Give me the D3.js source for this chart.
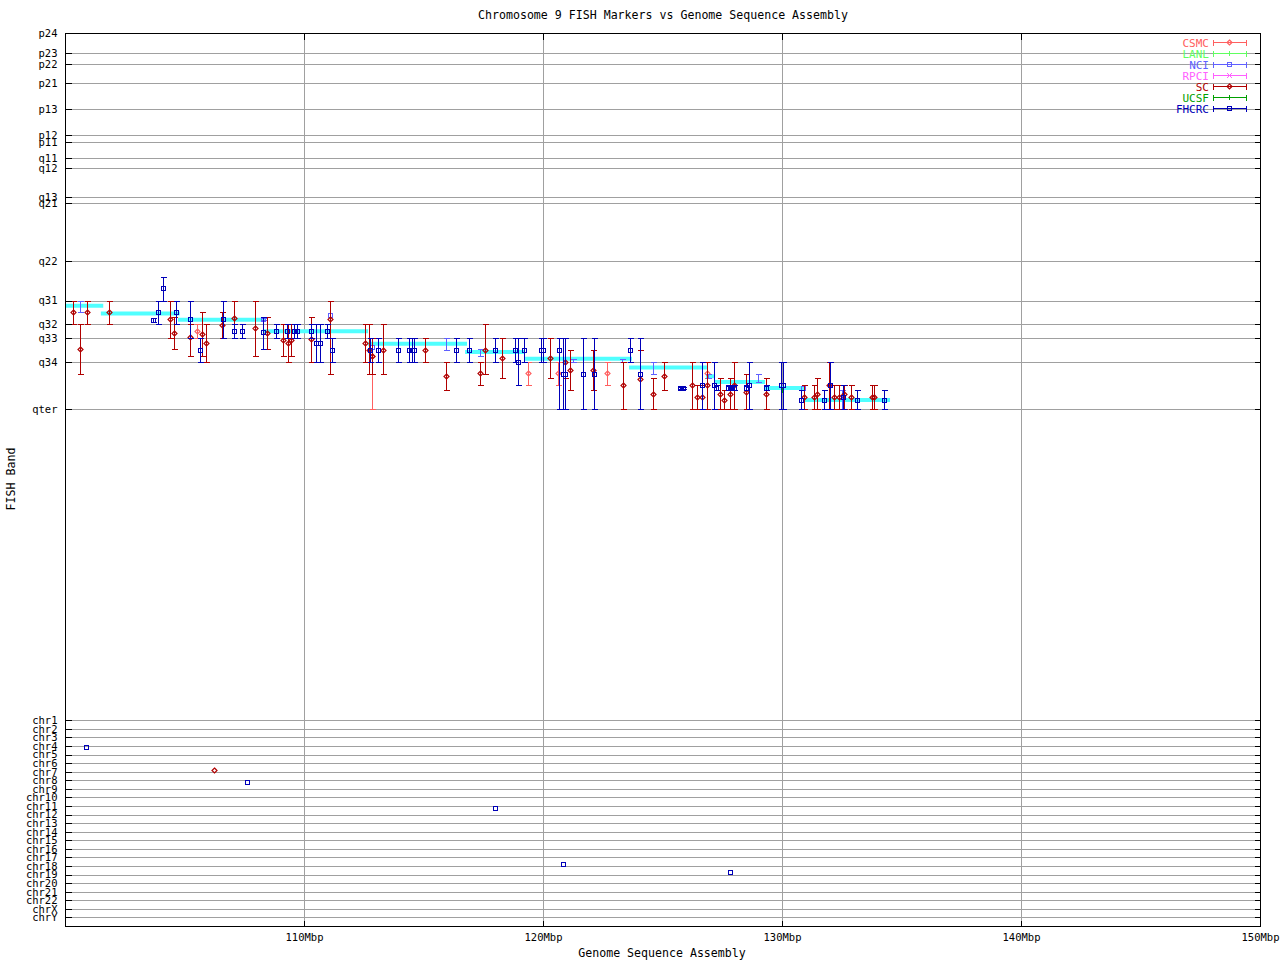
<!DOCTYPE html>
<html><head><meta charset="utf-8">
<script src="https://cdn.jsdelivr.net/npm/d3@7"></script>
<style>body{margin:0;background:#fff}</style>
</head><body><svg id="c" width="1280" height="960"></svg>
<script>
// ---------------- data ----------------
const titleText = "Chromosome 9 FISH Markers vs Genome Sequence Assembly";
const xTickValues = [110, 120, 130, 140, 150];
const xTickSuffix = "Mbp";
const bandLabels = ["p24","p23","p22","p21","p13","p12","p11","q11","q12","q13","q21","q22","q31","q32","q33","q34","qter"];
const bandValues = [0, 2.27, 3.51, 5.63, 8.54, 11.46, 12.24, 14.03, 15.15, 18.40, 19.07, 25.57, 29.96, 32.62, 34.19, 36.88, 42.14];
const chrLabels = ["chr1","chr2","chr3","chr4","chr5","chr6","chr7","chr8","chr9","chr10","chr11","chr12","chr13","chr14","chr15","chr16","chr17","chr18","chr19","chr20","chr21","chr22","chrX","chrY"];
const chrIndex = chrLabels.map((d, i) => i + 1);
const chrRegion = [76.97, 99.03]; // band-unit span of chr1 .. chrY

const labs = ["CSMC","LANL","NCI","RPCI","SC","UCSF","FHCRC"];
const labColors = ["#ff6060","#60ff60","#6060ff","#ff60ff","#b00000","#00a000","#0000b8"];
const labMarkers = ["diamond","tick","square","cross","diamond","tick","square"];

// band-to-sequence segments [startMbp, endMbp, band]
const bandSegments = [
  [100.0, 101.60, 30.53],
  [101.50, 104.80, 31.41],
  [104.73, 108.37, 32.10],
  [108.28, 112.68, 33.40],
  [112.68, 116.82, 34.79],
  [116.74, 119.25, 35.72],
  [119.25, 123.72, 36.47],
  [123.60, 126.86, 37.46],
  [126.82, 127.20, 38.44],
  [127.20, 129.29, 39.08],
  [129.25, 130.96, 39.75],
  [130.96, 134.52, 41.10]
];

// markers [Mbp, band, low, high]  (band null = range only)
const csmc = [
  [105.54, 33.40, 32.62, 34.19],
  [112.83, 36.17, 34.19, 42.14],
  [119.38, 38.11, 36.88, 39.45],
  [120.64, 38.11, 36.88, 39.45],
  [122.66, 38.11, 36.88, 39.45],
  [126.87, 38.11, 36.88, 38.67]
];
const lanl = [];
const nci = [
  [100.63, null, 29.96, 31.21],
  [108.30, 32.06, 31.95, 32.17],
  [111.10, 31.54, 31.54, 31.54],
  [112.86, 35.13, 35.13, 35.13],
  [115.95, null, 34.19, 35.46],
  [117.38, null, 35.42, 36.20],
  [121.26, null, 36.47, 36.88],
  [123.31, null, 36.47, 36.88],
  [124.62, null, 36.88, 38.22],
  [126.91, null, 38.22, 38.67],
  [129.00, null, 38.22, 39.11],
  [130.88, 39.75, 39.75, 39.75],
  [132.50, null, 39.97, 42.14]
];
const rpci = [];
const sc = [
  [100.32,31.28,29.96,32.62],[100.63,35.42,32.62,38.22],[100.93,31.28,29.96,32.62],
  [101.85,31.28,29.96,32.62],[104.39,32.06,29.96,34.19],[104.57,33.63,31.77,35.42],
  [105.23,34.01,32.62,36.20],[105.74,33.74,31.28,36.20],[105.91,34.71,32.62,36.88],
  [106.58,32.73,31.28,34.19],[107.08,31.95,29.96,32.62],[107.96,33.07,29.96,36.20],
  [108.46,33.56,31.84,35.42],[109.13,34.41,32.62,36.20],[109.34,34.75,32.62,36.88],
  [109.47,34.41,32.62,36.20],[110.31,34.30,31.84,36.88],[111.10,32.06,29.96,38.22],
  [112.57,34.75,32.62,36.88],[112.73,35.53,32.62,38.22],[112.86,36.20,34.19,38.22],
  [113.32,35.46,32.62,38.22],[115.08,35.53,34.19,36.88],[115.95,38.44,36.88,40.01],
  [117.38,38.11,36.88,39.45],[117.59,35.46,32.62,38.22],[118.30,36.43,34.19,38.67],
  [120.30,36.43,34.19,38.67],[120.94,36.88,34.19,38.67],[121.15,37.74,35.46,40.01],
  [122.10,37.74,35.46,40.01],[123.33,39.45,36.88,42.14],[124.04,38.78,35.46,42.14],
  [124.62,40.46,38.67,42.14],[125.08,38.44,36.88,40.01],[126.23,39.45,36.88,42.14],
  [126.46,40.79,39.45,42.14],[126.67,40.79,39.45,42.14],[126.87,39.45,36.88,42.14],
  [127.42,40.46,38.67,42.14],[127.59,41.13,40.01,42.14],[127.84,40.46,38.67,42.14],
  [128.00,39.45,36.88,42.14],[128.51,40.24,38.22,42.14],[129.34,40.46,38.67,42.14],
  [130.92,40.79,39.45,42.14],[131.34,40.79,39.45,42.14],[131.46,40.46,38.67,42.14],
  [131.98,39.45,36.88,42.14],[132.19,40.79,39.45,42.14],[132.40,40.79,39.45,42.14],
  [132.61,40.46,39.45,42.14],[132.90,40.79,39.45,42.14],[133.77,40.79,39.45,42.14],
  [133.85,40.79,39.45,42.14]
];
const ucsf = [
  [130.01, 39.97, 39.97, 39.97]
];
const fhcrc = [
  [103.69,32.14,31.88,32.40],[103.90,31.28,29.96,32.62],[104.11,28.59,27.36,29.96],
  [104.66,31.28,29.96,32.62],[105.23,32.06,29.96,34.19],[105.66,35.53,34.19,36.88],
  [106.62,32.06,29.96,34.19],[107.08,33.40,32.62,34.19],[107.42,33.40,32.62,34.19],
  [108.30,33.45,31.84,35.42],[108.84,33.40,32.62,34.19],[109.30,33.40,32.62,34.19],
  [109.60,33.40,32.62,34.19],[109.71,33.40,32.62,34.19],[110.31,33.40,32.62,34.19],
  [110.50,34.75,32.62,36.88],[110.68,34.75,32.62,36.88],[110.98,33.40,32.62,34.19],
  [111.18,35.53,34.19,36.88],[112.76,35.53,34.19,36.88],[113.11,35.53,34.19,36.88],
  [113.95,35.53,34.19,36.88],[114.41,35.53,34.19,36.88],[114.52,35.53,34.19,36.88],
  [114.62,35.53,34.19,36.88],[116.37,35.53,34.19,36.88],[116.92,35.53,34.19,36.88],
  [118.00,35.53,34.19,36.88],[118.83,35.53,34.19,36.88],[118.97,36.88,34.19,39.45],
  [119.22,35.53,34.19,36.88],[119.90,35.53,34.19,36.88],[120.00,35.53,34.19,36.88],
  [120.69,35.53,34.19,42.14],[120.82,38.22,34.19,42.14],[120.94,38.22,34.19,42.14],
  [121.69,38.22,34.19,42.14],[122.15,38.22,34.19,42.14],[123.65,35.53,34.19,36.88],
  [124.05,38.22,34.19,42.14],[125.73,39.75,39.60,39.90],[125.84,39.75,39.60,39.90],
  [126.67,39.45,36.88,42.14],[127.14,39.45,36.88,42.14],[127.25,39.75,39.45,40.01],
  [127.74,39.75,39.45,40.01],[127.87,39.75,39.45,40.01],[127.99,39.75,39.45,40.01],
  [128.51,39.75,39.45,40.01],[128.63,39.45,36.88,42.14],[129.34,39.75,39.45,40.01],
  [129.96,39.45,36.88,42.14],[130.06,39.45,36.88,42.14],[130.81,41.13,40.01,42.14],
  [131.77,41.13,40.01,42.14],[132.01,39.45,36.88,42.14],[132.56,40.79,39.45,42.14],
  [133.15,41.13,40.01,42.14],[134.28,41.13,40.01,42.14]
];
const labSeries = [csmc, lanl, nci, rpci, sc, ucsf, fhcrc];

// markers mapped to other chromosomes [Mbp, chromosome index]
const scOther = [[106.25, 6.84]];
const fhcrcOther = [[100.89, 4.15], [107.62, 8.24], [117.99, 11.24], [120.84, 17.78], [127.82, 18.72]];

// ---------------- drawing ----------------
const W = 1280, H = 960;
const M = {left: 65, right: 20, top: 33, bottom: 34};
const FONT = "'DejaVu Sans Mono', 'Liberation Mono', monospace";
const GRID = "#a0a0a0";
const svg = d3.select("#c");
svg.append("rect").attr("width", W).attr("height", H).attr("fill", "#fff");

const x = d3.scaleLinear().domain([100, 150]).range([M.left, W - M.right]);
const y = d3.scaleLinear().domain([0, 100]).range([M.top, H - M.bottom]);
const yChr = d3.scaleLinear().domain([1, 24]).range([y(chrRegion[0]), y(chrRegion[1])]);
const px = v => Math.round(v) + 0.5;

const x0 = x.range()[0], x1 = x.range()[1], y0 = y.range()[0], y1 = y.range()[1];

// grid
const grid = svg.append("g").attr("stroke", GRID).attr("stroke-width", 1).attr("shape-rendering", "crispEdges");
bandValues.forEach(v => grid.append("line").attr("x1", x0).attr("x2", x1).attr("y1", px(y(v))).attr("y2", px(y(v))));
chrIndex.forEach(v => grid.append("line").attr("x1", x0).attr("x2", x1).attr("y1", px(yChr(v))).attr("y2", px(yChr(v))));
xTickValues.forEach(v => grid.append("line").attr("y1", y0).attr("y2", y1).attr("x1", px(x(v))).attr("x2", px(x(v))));

// band segments
const seg = svg.append("g").attr("stroke", "#50ffff").attr("stroke-width", 4);
bandSegments.forEach(s => seg.append("line")
  .attr("x1", x(s[0])).attr("x2", x(s[1])).attr("y1", y(s[2])).attr("y2", y(s[2])));

function drawMarker(g, kind, cx, cy, color) {
  if (kind === "square") {
    g.append("rect").attr("x", cx - 2).attr("y", cy - 2).attr("width", 4).attr("height", 4)
      .attr("fill", "none").attr("stroke", color).attr("shape-rendering", "crispEdges");
  } else if (kind === "diamond") {
    g.append("path").attr("d", `M${cx},${cy-2.5}L${cx+2.5},${cy}L${cx},${cy+2.5}L${cx-2.5},${cy}Z`)
      .attr("fill", "none").attr("stroke", color).attr("stroke-width", 1.2);
  } else if (kind === "cross") {
    g.append("path").attr("d", `M${cx-2.5},${cy-2.5}L${cx+2.5},${cy+2.5}M${cx-2.5},${cy+2.5}L${cx+2.5},${cy-2.5}`)
      .attr("stroke", color);
  } else {
    g.append("line").attr("x1", cx).attr("x2", cx).attr("y1", cy - 2.5).attr("y2", cy + 2.5).attr("stroke", color);
  }
}

labSeries.forEach((series, li) => {
  const color = labColors[li], kind = labMarkers[li];
  const g = svg.append("g").attr("stroke-width", 1);
  series.forEach(d => {
    const cx = px(x(d[0]));
    const ylo = px(y(d[2])), yhi = px(y(d[3]));
    const eb = g.append("g").attr("stroke", color).attr("shape-rendering", "crispEdges");
    if (yhi - ylo >= 1) {
      eb.append("line").attr("x1", cx).attr("x2", cx).attr("y1", ylo).attr("y2", yhi);
      eb.append("line").attr("x1", cx - 3).attr("x2", cx + 3).attr("y1", ylo).attr("y2", ylo);
      eb.append("line").attr("x1", cx - 3).attr("x2", cx + 3).attr("y1", yhi).attr("y2", yhi);
    }
    if (d[1] !== null) drawMarker(g, kind, cx, px(y(d[1])), color);
  });
});
[[scOther, 4], [fhcrcOther, 6]].forEach(([arr, li]) => {
  const g = svg.append("g").attr("stroke-width", 1);
  arr.forEach(d => drawMarker(g, labMarkers[li], px(x(d[0])), px(yChr(d[1])), labColors[li]));
});

// border
svg.append("rect").attr("x", x0 + 0.5).attr("y", y0 + 0.5).attr("width", x1 - x0).attr("height", y1 - y0)
  .attr("fill", "none").attr("stroke", "#000").attr("shape-rendering", "crispEdges");

// axes
function styleAxis(g, size) {
  g.attr("font-family", FONT).attr("font-size", size);
  g.select(".domain").remove();
  g.selectAll(".tick line").attr("stroke", "#000").attr("shape-rendering", "crispEdges");
  g.selectAll(".tick text").attr("fill", "#000");
}
const bandAxis = d3.axisLeft(y).tickValues(bandValues).tickFormat((d, i) => bandLabels[i])
  .tickSizeInner(-6).tickSizeOuter(0).tickPadding(8);
svg.append("g").attr("transform", `translate(${x0 + 0.5},0)`).call(bandAxis).call(g => styleAxis(g, 10.5));
const chrAxis = d3.axisLeft(yChr).tickValues(chrIndex).tickFormat((d, i) => chrLabels[i])
  .tickSizeInner(-6).tickSizeOuter(0).tickPadding(8);
svg.append("g").attr("transform", `translate(${x0 + 0.5},0)`).call(chrAxis).call(g => styleAxis(g, 10.5));
// mirrored ticks on right
const bandAxisR = d3.axisRight(y).tickValues(bandValues).tickFormat("").tickSizeInner(-6).tickSizeOuter(0);
svg.append("g").attr("transform", `translate(${x1 + 0.5},0)`).call(bandAxisR).call(g => styleAxis(g, 10.5));
const chrAxisR = d3.axisRight(yChr).tickValues(chrIndex).tickFormat("").tickSizeInner(-6).tickSizeOuter(0);
svg.append("g").attr("transform", `translate(${x1 + 0.5},0)`).call(chrAxisR).call(g => styleAxis(g, 10.5));

const xAxis = d3.axisBottom(x).tickValues(xTickValues).tickFormat(d => d + xTickSuffix)
  .tickSizeInner(-6).tickSizeOuter(0).tickPadding(7);
svg.append("g").attr("transform", `translate(0,${y1 + 0.5})`).call(xAxis).call(g => styleAxis(g, 10.5));
const xAxisTop = d3.axisTop(x).tickValues(xTickValues).tickFormat("").tickSizeInner(-6).tickSizeOuter(0);
svg.append("g").attr("transform", `translate(0,${y0 + 0.5})`).call(xAxisTop).call(g => styleAxis(g, 10.5));

// titles
svg.append("text").attr("x", 663).attr("y", 19).attr("text-anchor", "middle")
  .attr("font-family", FONT).attr("font-size", 11.6).text(titleText);
svg.append("text").attr("x", 662).attr("y", 957).attr("text-anchor", "middle")
  .attr("font-family", FONT).attr("font-size", 11.6).text("Genome Sequence Assembly");
svg.append("text").attr("transform", "translate(15,479) rotate(-90)").attr("text-anchor", "middle")
  .attr("font-family", FONT).attr("font-size", 11.6).text("FISH Band");

// legend
const leg = svg.append("g").attr("font-family", FONT).attr("font-size", 11);
labs.forEach((name, i) => {
  const ly = 42.5 + i * 11;
  const color = labColors[i];
  leg.append("text").attr("x", 1209).attr("y", ly + 4).attr("text-anchor", "end").attr("fill", color).text(name);
  const g = leg.append("g").attr("stroke", color).attr("shape-rendering", "crispEdges");
  g.append("line").attr("x1", 1213).attr("x2", 1247).attr("y1", ly).attr("y2", ly);
  g.append("line").attr("x1", 1213.5).attr("x2", 1213.5).attr("y1", ly - 3).attr("y2", ly + 3);
  g.append("line").attr("x1", 1246.5).attr("x2", 1246.5).attr("y1", ly - 3).attr("y2", ly + 3);
  drawMarker(leg, labMarkers[i], 1229.5, ly, color);
});
</script>
</body></html>
